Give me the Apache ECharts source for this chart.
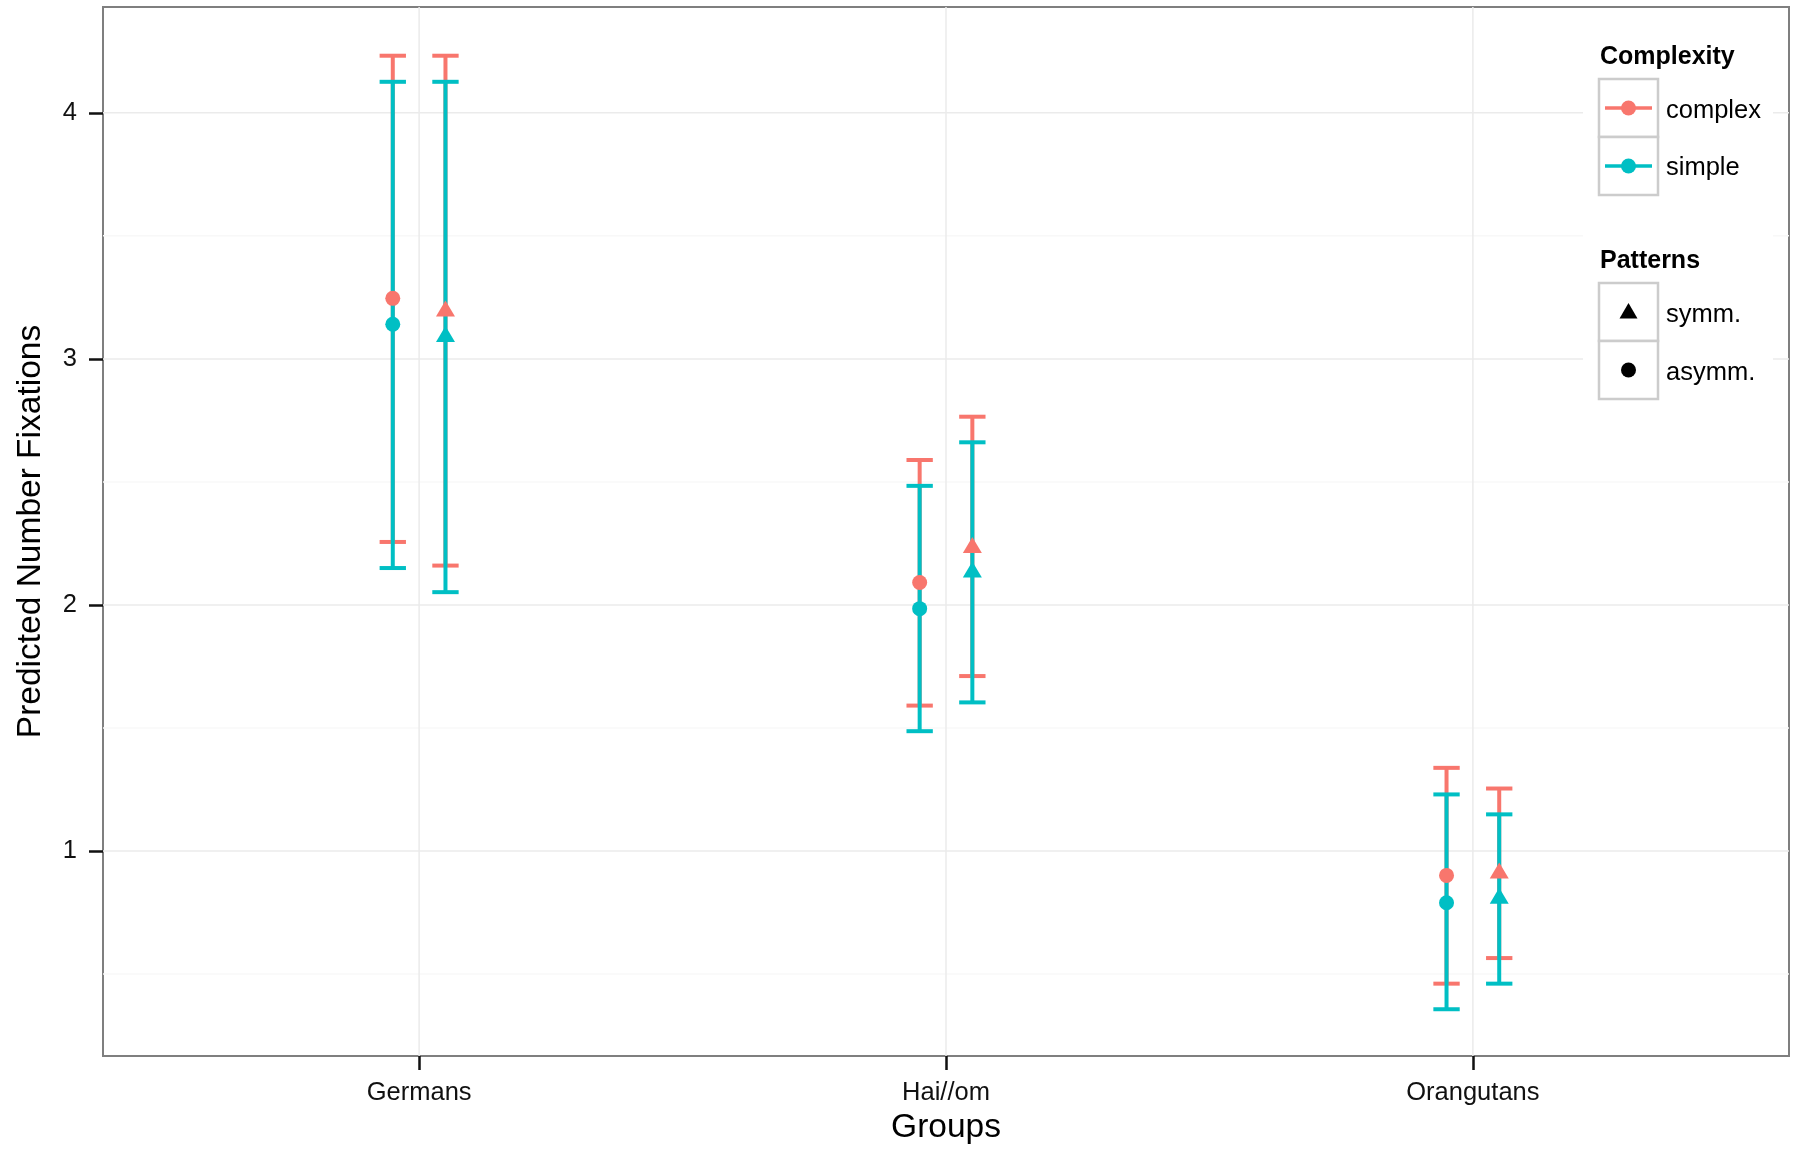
<!DOCTYPE html>
<html>
<head>
<meta charset="utf-8">
<title>Predicted Number Fixations</title>
<script src="https://cdn.jsdelivr.net/npm/echarts@6/dist/echarts.min.js"></script>
<style>
  html, body { margin: 0; padding: 0; background: #fff; }
  #chart { width: 1800px; height: 1153px; }
</style>
</head>
<body>
<div id="chart"></div>
<script>
// groups on the x axis, patterns dodged inside each group
var groups = ['Germans', 'Hai//om', 'Orangutans'];
var yTicks = [1, 2, 3, 4];
var yMinorLines = [0.5, 1.5, 2.5, 3.5];

// complex (red)
var complexAsymmFit  = [3.246, 2.091, 0.901];
var complexAsymmLow  = [2.256, 1.591, 0.461];
var complexAsymmHigh = [4.232, 2.589, 1.338];
var complexSymmFit   = [3.194, 2.233, 0.910];
var complexSymmLow   = [2.160, 1.711, 0.565];
var complexSymmHigh  = [4.232, 2.765, 1.254];

// simple (teal)
var simpleAsymmFit  = [3.141, 1.985, 0.790];
var simpleAsymmLow  = [2.150, 1.487, 0.357];
var simpleAsymmHigh = [4.126, 2.484, 1.230];
var simpleSymmFit   = [3.090, 2.133, 0.807];
var simpleSymmLow   = [2.052, 1.604, 0.461];
var simpleSymmHigh  = [4.126, 2.661, 1.149];

var RED = '#F8766D', TEAL = '#00BFC4';
var DODGE = 0.05;      // asymm left, symm right
var CAP = 0.05;        // error bar cap width in x units
var X_MIN = 0.4, X_MAX = 3.6, Y_MIN = 0.167, Y_MAX = 4.43;

function xPos(i, pat) { return i + 1 + (pat === 'symm' ? DODGE : -DODGE); }

function barData(low, high, pat) {
  return groups.map(function (g, i) { return [xPos(i, pat), low[i], high[i]]; });
}
function pointData(fit, pat) {
  return groups.map(function (g, i) { return [xPos(i, pat), fit[i]]; });
}

// grid lines: [value, vertical?, major?]
var gridData = [];
yTicks.forEach(function (v) { gridData.push([v, 0, 1]); });
yMinorLines.forEach(function (v) { gridData.push([v, 0, 0]); });
groups.forEach(function (g, i) { gridData.push([i + 1, 1, 1]); });

function renderGrid(params, api) {
  var cs = params.coordSys;
  var v = api.value(0), vert = api.value(1), major = api.value(2);
  var shape;
  if (vert) {
    var x = api.coord([v, Y_MIN])[0];
    shape = { x1: x, y1: cs.y, x2: x, y2: cs.y + cs.height };
  } else {
    var y = api.coord([X_MIN, v])[1];
    shape = { x1: cs.x, y1: y, x2: cs.x + cs.width, y2: y };
  }
  return {
    type: 'line', shape: shape, silent: true,
    style: { stroke: major ? '#ebebeb' : '#f8f8f8', lineWidth: 1.5 }
  };
}

function makeErrorBar(color) {
  return function (params, api) {
    var x = api.value(0);
    var lo = api.coord([x, api.value(1)]);
    var hi = api.coord([x, api.value(2)]);
    var half = api.size([CAP, 0])[0] / 2;
    var st = { stroke: color, lineWidth: 4 };
    return {
      type: 'group',
      children: [
        { type: 'line', shape: { x1: lo[0], y1: lo[1], x2: hi[0], y2: hi[1] }, style: st },
        { type: 'line', shape: { x1: lo[0] - half, y1: lo[1], x2: lo[0] + half, y2: lo[1] }, style: st },
        { type: 'line', shape: { x1: hi[0] - half, y1: hi[1], x2: hi[0] + half, y2: hi[1] }, style: st }
      ]
    };
  };
}

function barSeries(name, data, color) {
  return {
    name: name, type: 'custom', renderItem: makeErrorBar(color),
    encode: { x: 0, y: [1, 2] }, data: data, silent: true
  };
}
function pointSeries(name, data, color, pat) {
  var tri = pat === 'symm';
  return {
    name: name, type: 'scatter', data: data,
    symbol: tri ? 'triangle' : 'circle',
    symbolSize: tri ? [19, 16] : 15,
    symbolOffset: tri ? [0, -2.7] : [0, 0],
    itemStyle: { color: color, opacity: 1 },
    silent: true
  };
}

var FONT = 'Liberation Sans, Arial, sans-serif';
var TXT = '#111';

var chartDom = document.getElementById('chart');
var myChart = echarts.init(chartDom, null, { renderer: 'canvas' });

// legend drawn as ggplot-like key boxes
var legendItems = [
  { type: 'rect', shape: { x: 1583, y: 28, width: 190, height: 388 }, style: { fill: '#fff' } },
  { type: 'text', style: { x: 1600, y: 57, text: 'Complexity', font: 'bold 25px ' + FONT, fill: '#000', verticalAlign: 'middle' } },
  { type: 'rect', shape: { x: 1599, y: 79, width: 59, height: 58 }, style: { fill: '#fff', stroke: '#cccccc', lineWidth: 2.5 } },
  { type: 'rect', shape: { x: 1599, y: 137, width: 59, height: 58 }, style: { fill: '#fff', stroke: '#cccccc', lineWidth: 2.5 } },
  { type: 'line', shape: { x1: 1605, y1: 108, x2: 1652, y2: 108 }, style: { stroke: RED, lineWidth: 3.5 } },
  { type: 'circle', shape: { cx: 1628.5, cy: 108, r: 7.5 }, style: { fill: RED } },
  { type: 'line', shape: { x1: 1605, y1: 166, x2: 1652, y2: 166 }, style: { stroke: TEAL, lineWidth: 3.5 } },
  { type: 'circle', shape: { cx: 1628.5, cy: 166, r: 7.5 }, style: { fill: TEAL } },
  { type: 'text', style: { x: 1666, y: 111, text: 'complex', font: '25.5px ' + FONT, fill: '#000', verticalAlign: 'middle' } },
  { type: 'text', style: { x: 1666, y: 168, text: 'simple', font: '25.5px ' + FONT, fill: '#000', verticalAlign: 'middle' } },
  { type: 'text', style: { x: 1600, y: 261, text: 'Patterns', font: 'bold 25px ' + FONT, fill: '#000', verticalAlign: 'middle' } },
  { type: 'rect', shape: { x: 1599, y: 283, width: 59, height: 58 }, style: { fill: '#fff', stroke: '#cccccc', lineWidth: 2.5 } },
  { type: 'rect', shape: { x: 1599, y: 341, width: 59, height: 58 }, style: { fill: '#fff', stroke: '#cccccc', lineWidth: 2.5 } },
  { type: 'polygon', shape: { points: [[1628.5, 303], [1637.5, 318.5], [1619.5, 318.5]] }, style: { fill: '#000' } },
  { type: 'circle', shape: { cx: 1628.5, cy: 370, r: 7.5 }, style: { fill: '#000' } },
  { type: 'text', style: { x: 1666, y: 315, text: 'symm.', font: '25.5px ' + FONT, fill: '#000', verticalAlign: 'middle' } },
  { type: 'text', style: { x: 1666, y: 373, text: 'asymm.', font: '25.5px ' + FONT, fill: '#000', verticalAlign: 'middle' } }
];
legendItems.forEach(function (el) { el.z = 100; el.silent = true; });

var option = {
  backgroundColor: '#fff',
  animation: false,
  textStyle: { fontFamily: FONT },
  grid: {
    left: 103, top: 7, right: 11, bottom: 97,
    show: true, borderColor: '#7f7f7f', borderWidth: 2, backgroundColor: 'transparent'
  },
  xAxis: {
    type: 'value', min: X_MIN, max: X_MAX,
    name: 'Groups', nameLocation: 'middle', nameGap: 48,
    nameTextStyle: { fontSize: 33.5, color: '#000', fontFamily: FONT },
    axisLine: { show: false },
    axisTick: { show: true, length: 14, customValues: [1, 2, 3], lineStyle: { color: '#111', width: 2.5 } },
    axisLabel: {
      customValues: [1, 2, 3], margin: 24, fontSize: 25.5, color: TXT, fontFamily: FONT,
      formatter: function (v) { return groups[Math.round(v) - 1] || ''; }
    },
    splitLine: { show: false }
  },
  yAxis: {
    type: 'value', min: Y_MIN, max: Y_MAX,
    name: 'Predicted Number Fixations', nameLocation: 'middle', nameGap: 55, nameRotate: 90,
    nameTextStyle: { fontSize: 33.5, color: '#000', fontFamily: FONT },
    axisLine: { show: false },
    axisTick: { show: true, length: 14, customValues: yTicks, lineStyle: { color: '#111', width: 2.5 } },
    axisLabel: { customValues: yTicks, margin: 26, fontSize: 25.5, color: TXT, fontFamily: FONT },
    splitLine: { show: false }
  },
  graphic: legendItems,
  series: [
    { name: 'grid', type: 'custom', renderItem: renderGrid, data: gridData, silent: true, z: 1, clip: false },
    barSeries('complex asymm.', barData(complexAsymmLow, complexAsymmHigh, 'asymm'), RED),
    barSeries('complex symm.', barData(complexSymmLow, complexSymmHigh, 'symm'), RED),
    barSeries('simple asymm.', barData(simpleAsymmLow, simpleAsymmHigh, 'asymm'), TEAL),
    barSeries('simple symm.', barData(simpleSymmLow, simpleSymmHigh, 'symm'), TEAL),
    pointSeries('complex asymm. fit', pointData(complexAsymmFit, 'asymm'), RED, 'asymm'),
    pointSeries('complex symm. fit', pointData(complexSymmFit, 'symm'), RED, 'symm'),
    pointSeries('simple asymm. fit', pointData(simpleAsymmFit, 'asymm'), TEAL, 'asymm'),
    pointSeries('simple symm. fit', pointData(simpleSymmFit, 'symm'), TEAL, 'symm')
  ]
};

myChart.setOption(option);
</script>
</body>
</html>
